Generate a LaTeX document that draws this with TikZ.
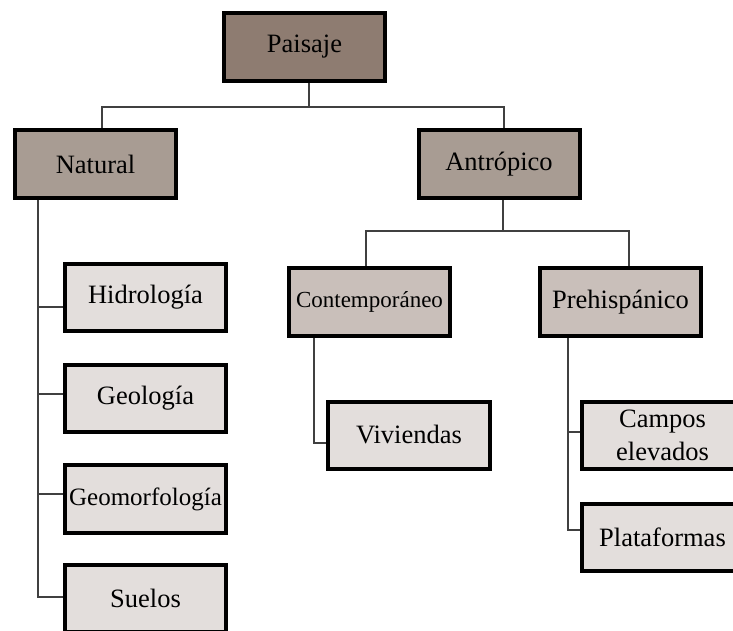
\documentclass[tikz,border=0pt]{standalone}
\usepackage{fontspec}
\setmainfont{Liberation Serif}
\definecolor{cA}{HTML}{8E7C71}
\definecolor{cB}{HTML}{A89C93}
\definecolor{cC}{HTML}{C9BFBA}
\definecolor{cD}{HTML}{E3DEDC}
\definecolor{lnk}{HTML}{404040}
\tikzset{
  box/.style={draw=black, line width=4pt, inner sep=0pt, minimum width=161pt, minimum height=67pt,
    font=\fontsize{26.5}{31}\selectfont, align=center, text=black},
  conn/.style={draw=lnk, line width=1.3pt},
}
\begin{document}
\begin{tikzpicture}[x=1pt,y=-1pt]
\useasboundingbox (0,0) rectangle (733,631);
\clip (0,0) rectangle (733,631);
\fill[white] (0,0) rectangle (733,631);
% nodes
\node[box, fill=cA, minimum height=68pt] (p) at (304.5,47) {Paisaje};
\node[box, fill=cB, minimum height=68pt] (n) at (95.5,164) {Natural};
\node[box, fill=cB, minimum height=68pt] (a) at (499,164) {Antrópico};
\node[box, fill=cC, minimum height=68pt, font=\fontsize{23}{27}\selectfont] (c) at (369.5,302) {Contemporáneo};
\node[box, fill=cC, minimum height=68pt] (ph) at (620.5,302) {Prehispánico};
\node[box, fill=cD, minimum width=162pt] (v) at (409,435) {Viviendas};
\node[box, fill=cD, font=\fontsize{26.5}{33}\selectfont] (ce) at (662.5,435) {Campos\\elevados};
\node[box, fill=cD] (pl) at (662.5,537) {Plataformas};
\node[box, fill=cD] (h) at (145.5,297) {Hidrología};
\node[box, fill=cD] (g) at (145.5,398) {Geología};
\node[box, fill=cD, minimum height=68pt, font=\fontsize{25}{29}\selectfont] (gm) at (145.5,499) {Geomorfología};
\node[box, fill=cD] (s) at (145.5,598) {Suelos};
% connectors
\coordinate (j1) at (309,107);
\coordinate (j2) at (503,231);
\draw[conn] ([xshift=4.5pt]p.south) -- (j1);
\draw[conn] (j1) -| ([xshift=6.5pt]n.north);
\draw[conn] (j1) -| ([xshift=5pt]a.north);
\draw[conn] ([xshift=4pt]a.south) -- (j2);
\draw[conn] (j2) -| ([xshift=-3.5pt]c.north);
\draw[conn] (j2) -| ([xshift=8.5pt]ph.north);
\draw[conn] ([xshift=-57.5pt]n.south) |- ([yshift=-10pt]h.west);
\draw[conn] ([xshift=-57.5pt]n.south) |- ([yshift=4pt]g.west);
\draw[conn] ([xshift=-57.5pt]n.south) |- ([yshift=5pt]gm.west);
\draw[conn] ([xshift=-57.5pt]n.south) |- ([yshift=1pt]s.west);
\draw[conn] ([xshift=-55.5pt]c.south) |- ([yshift=-8pt]v.west);
\draw[conn] ([xshift=-52.5pt]ph.south) |- ([yshift=3pt]ce.west);
\draw[conn] ([xshift=-52.5pt]ph.south) |- ([yshift=7pt]pl.west);
\end{tikzpicture}
\end{document}
